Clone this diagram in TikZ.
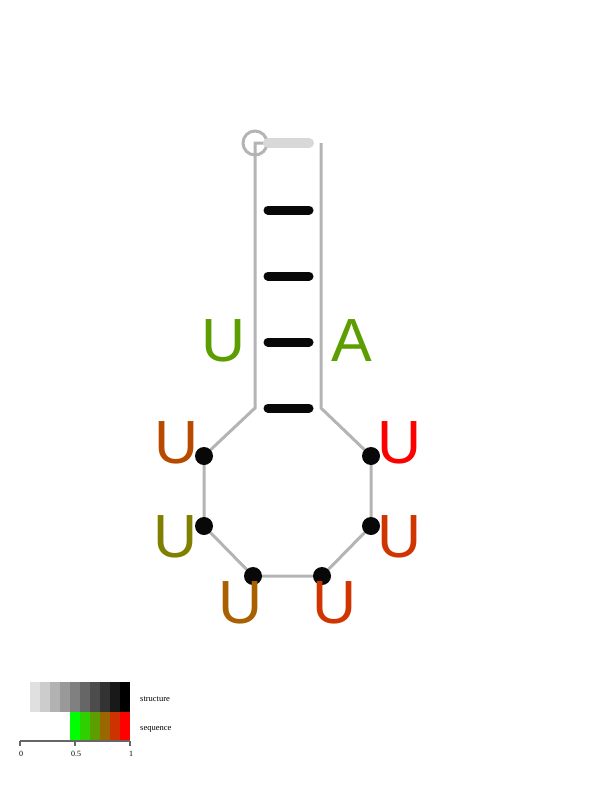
\documentclass[tikz,border=0pt]{standalone}
\usepackage{fontspec}
\newfontfamily\basefont{Liberation Sans}
\setmainfont{Liberation Serif}
\definecolor{strand}{HTML}{B4B4B4}
\definecolor{endbar}{HTML}{D8D8D8}
\definecolor{cGreen}{HTML}{5C9E00}
\definecolor{cOrangeA}{HTML}{B84A00}
\definecolor{cRed}{HTML}{FF0000}
\definecolor{cOlive}{HTML}{808000}
\definecolor{cRedB}{HTML}{D03400}
\definecolor{cBrown}{HTML}{A86000}
\definecolor{cRedC}{HTML}{D03400}
\tikzset{
  backbone/.style={draw=strand, line width=3pt},
  pairbar/.style={line width=9pt, line cap=round, draw=black!97},
  basedot/.style={circle, fill=black!97, minimum size=18pt, inner sep=0pt},
  baselabel/.style={font=\basefont\fontsize{61}{61}\selectfont, inner sep=0pt, anchor=center},
  legtext/.style={font=\fontsize{8.5}{9}\selectfont, inner sep=0pt, anchor=west},
  ticktext/.style={font=\fontsize{8}{9}\selectfont, inner sep=0pt, anchor=center}
}
\begin{document}
\begin{tikzpicture}[x=1pt,y=-1pt]
\useasboundingbox (0,0) rectangle (612,792);
% backbone coordinates
\coordinate (s0) at (265,143);
\coordinate (s1) at (255,143);
\coordinate (s2) at (255,408);
\coordinate (p1) at (204,456);
\coordinate (p2) at (204,526);
\coordinate (p3) at (253,576);
\coordinate (p4) at (322,576);
\coordinate (p5) at (371,526);
\coordinate (p6) at (371,456);
\coordinate (e2) at (321,408);
\coordinate (e1) at (321,143);
% backbone line
\draw[backbone] (s0) -- (s1) -- (s2) -- (p1) -- (p2) -- (p3) -- (p4) -- (p5) -- (p6) -- (e2) -- (e1);
% loop bases
\node[basedot] (n1) at (p1) {};
\node[basedot] (n2) at (p2) {};
\node[basedot] (n3) at (p3) {};
\node[basedot] (n4) at (p4) {};
\node[basedot] (n5) at (p5) {};
\node[basedot] (n6) at (p6) {};
% 5' end
\node[circle, draw=strand, line width=3pt, minimum size=24pt, inner sep=0pt] (start) at (255,143) {};
\coordinate (eb1) at (268,143);
\coordinate (eb2) at (309,143);
\draw[line width=10pt, line cap=round, draw=endbar] (eb1) -- (eb2);
% base pair bars
\foreach \y/\nm in {210/a,276/b,342/c,408/d}{
  \coordinate (bp\nm1) at (268,\y);
  \coordinate (bp\nm2) at (309,\y);
  \draw[pairbar] (bp\nm1) -- (bp\nm2);
}
% labels
\node[baselabel, text=cGreen] (lU) at (224,341) {U};
\node[baselabel, text=cGreen] (lA) at (352,341) {A};
\node[baselabel, text=cOrangeA] (l1) at (177,443) {U};
\node[baselabel, text=cOlive] (l2) at (176,537) {U};
\node[baselabel, text=cBrown] (l3) at (241,603) {U};
\node[baselabel, text=cRedC] (l4) at (335,603) {U};
\node[baselabel, text=cRedB] (l5) at (400,537) {U};
\node[baselabel, text=cRed] (l6) at (400,443) {U};
% legend
\foreach \i/\g in {0/12,1/20,2/30,3/40,4/50,5/60,6/70,7/80,8/90,9/100}{
  \fill[black!\g] (30+\i*10,682) rectangle (40+\i*10,712);
}
\definecolor{q0}{HTML}{00FF00}
\definecolor{q1}{HTML}{2FD000}
\definecolor{q2}{HTML}{5C9E00}
\definecolor{q3}{HTML}{996600}
\definecolor{q4}{HTML}{CC3300}
\definecolor{q5}{HTML}{FF0000}
\foreach \i in {0,...,5}{
  \fill[q\i] (70+\i*10,712) rectangle (80+\i*10,741);
}
\coordinate (ax0) at (20,741);
\coordinate (ax1) at (130,741);
\draw[line width=1.2pt, draw=black!60] (ax0) -- (ax1);
\foreach \x/\t in {20/0,75/0.5,130/1}{
  \draw[line width=1.2pt, draw=black!60] (\x,741) -- (\x,746);
  \node[ticktext] at (\x+1,754) {\t};
}
\node[legtext] (lst) at (140,699) {structure};
\node[legtext] (lsq) at (140,729) {sequence};
\end{tikzpicture}
\end{document}
